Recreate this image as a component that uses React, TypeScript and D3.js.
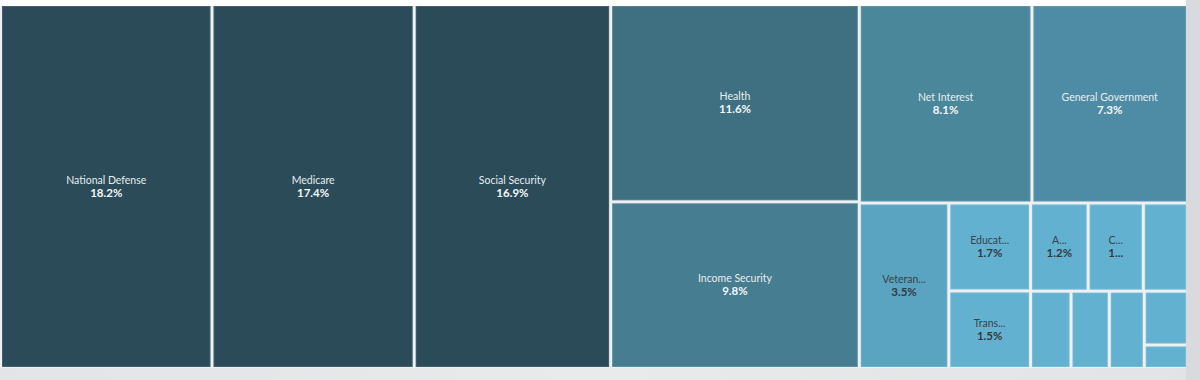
import React from "react";
import * as d3 from "d3";

// ---- data ----
const categories = [
  "National Defense",
  "Medicare",
  "Social Security",
  "Health",
  "Income Security",
  "Net Interest",
  "General Government",
  "Veterans Benefits and Services",
  "Education, Training, Employment, and Social Services",
  "Transportation",
  "Agriculture",
  "Commerce and Housing Credit",
  "International Affairs",
  "Administration of Justice",
  "Natural Resources and Environment",
  "Community and Regional Development",
  "General Science, Space, and Technology",
  "Energy",
];
const shares = [18.2, 17.4, 16.9, 11.6, 9.8, 8.1, 7.3, 3.5, 1.7, 1.5, 1.2, 1.15, 0.92, 0.74, 0.7, 0.64, 0.55, 0.24];
// labels as displayed (truncated by the original tool)
const nameLabels = [
  "National Defense", "Medicare", "Social Security", "Health", "Income Security",
  "Net Interest", "General Government", "Veteran...", "Educat...", "Trans...",
  "A...", "C...", "", "", "", "", "", "",
];
const valueLabels = [
  "18.2%", "17.4%", "16.9%", "11.6%", "9.8%", "8.1%", "7.3%", "3.5%", "1.7%", "1.5%",
  "1.2%", "1...", "", "", "", "", "", "",
];
// number of items in each successive strip of the layout
const rowSizes = [1, 1, 1, 2, 2, 1, 2, 3, 1, 1, 1, 1, 1];

// ---- layout constants ----
const W = 1200;
const H = 380;
const X0 = 2;
const Y0 = 6;
const TW = 1184;
const TH = 361;

const color = d3
  .scaleLinear<string>()
  .domain([1.7, 3.5, 7.3, 8.1, 9.8, 11.6, 16.9])
  .range(["#63b1d1", "#5aa4c2", "#4e8ba5", "#4b879b", "#467d91", "#3f7082", "#2b4b59"])
  .clamp(true);

function stripTile(parent: any, x0: number, y0: number, x1: number, y1: number) {
  const nodes = parent.children;
  let i = 0;
  let r = 0;
  let remaining = parent.value;
  while (i < nodes.length) {
    const k = rowSizes[r++] ?? nodes.length - i;
    const row = nodes.slice(i, i + k);
    const rowValue = d3.sum(row, (d: any) => d.value);
    const fake = { children: row, value: rowValue } as any;
    const dx = x1 - x0;
    const dy = y1 - y0;
    if (dx >= dy) {
      const w = remaining ? (dx * rowValue) / remaining : 0;
      d3.treemapSlice(fake, x0, y0, x0 + w, y1);
      x0 += w;
    } else {
      const h = remaining ? (dy * rowValue) / remaining : 0;
      d3.treemapDice(fake, x0, y0, x1, y0 + h);
      y0 += h;
    }
    remaining -= rowValue;
    i += k;
  }
}

export default function App() {
  const data = categories.map((name, i) => ({
    name,
    value: shares[i],
    label: nameLabels[i],
    vlabel: valueLabels[i],
  }));
  const root = d3
    .hierarchy<any>({ children: data })
    .sum((d: any) => d.value ?? 0);
  d3.treemap<any>().size([TW, TH]).paddingInner(3).tile(stripTile as any)(root);
  const leaves = root.leaves() as any[];

  return (
    <svg
      width={W}
      height={H}
      style={{ position: "absolute", left: 0, top: 0, display: "block" }}
      fontFamily="Lato, 'Noto Sans', sans-serif"
    >
      <defs>
        <linearGradient id="bg" x1="0" y1="0" x2="1" y2="0">
          <stop offset="0" stopColor="#e2e4e7" />
          <stop offset="0.5" stopColor="#e9eaec" />
          <stop offset="1" stopColor="#e1e3e6" />
        </linearGradient>
      </defs>
      <rect x={0} y={0} width={W} height={H} fill="url(#bg)" />
      <rect x={0} y={0} width={1186} height={Y0} fill="#ffffff" />
      <rect x={0} y={Y0} width={1186} height={TH + 1} fill="#eef0f2" />
      <rect x={1186} y={0} width={W - 1186} height={H} fill="#d9dadd" />
      <g transform={`translate(${X0},${Y0})`}>
        {leaves.map((d, i) => {
          const w = d.x1 - d.x0;
          const h = d.y1 - d.y0;
          const cx = (d.x0 + d.x1) / 2;
          const cy = (d.y0 + d.y1) / 2;
          const light = d.data.value < 5;
          return (
            <g key={i}>
              <rect
                x={d.x0}
                y={d.y0}
                width={w}
                height={h}
                fill={color(d.data.value)}
              />
              <rect
                x={d.x0 + 0.5}
                y={d.y0 + 0.5}
                width={Math.max(0, w - 1)}
                height={Math.max(0, h - 1)}
                fill="none"
                stroke="#ffffff"
                strokeOpacity={0.12}
              />
              {d.data.label && (
                <text
                  x={cx}
                  y={cy - 3}
                  textAnchor="middle"
                  fontSize={10.5}
                  fill={light ? "#3b4348" : "#e6ecef"}
                >
                  {d.data.label}
                </text>
              )}
              {d.data.vlabel && (
                <text
                  x={cx}
                  y={cy + 10}
                  textAnchor="middle"
                  fontSize={11.5}
                  fontWeight={700}
                  fill={light ? "#34393d" : "#f4f7f8"}
                >
                  {d.data.vlabel}
                </text>
              )}
            </g>
          );
        })}
      </g>
    </svg>
  );
}
